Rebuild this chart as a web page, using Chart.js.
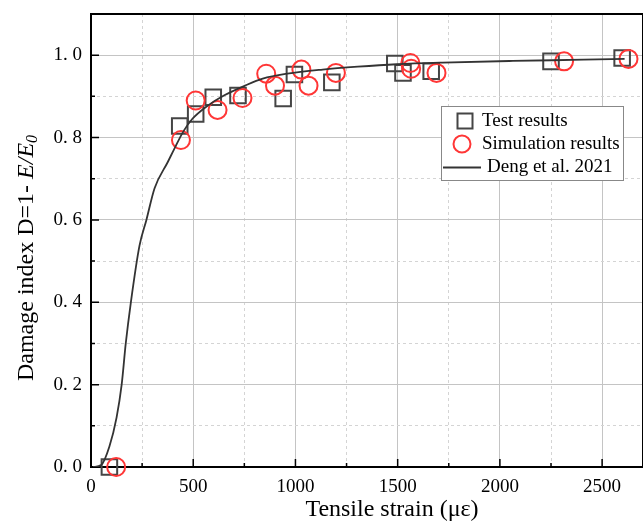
<!DOCTYPE html>
<html>
<head>
<meta charset="utf-8">
<script src="https://cdn.jsdelivr.net/npm/chart.js@4.4.0/dist/chart.umd.min.js"></script>
<style>
  html, body { margin: 0; padding: 0; background: #fff; }
</style>
</head>
<body>
<canvas id="graficoDano" width="643" height="524"></canvas>
<script>
// Test results (squares)
const testStrain = [90, 434, 512, 598, 719, 940, 995, 1178, 1486, 1526, 1664, 2250, 2598];
const testDamage = [0.0, 0.828, 0.857, 0.898, 0.902, 0.895, 0.953, 0.934, 0.980, 0.957, 0.961, 0.985, 0.993];

// Simulation results (circles)
const simStrain = [123, 440, 512, 619, 741, 857, 900, 1029, 1064, 1198, 1562, 1566, 1690, 2314, 2629];
const simDamage = [0.0, 0.794, 0.890, 0.867, 0.896, 0.955, 0.926, 0.965, 0.926, 0.957, 0.981, 0.967, 0.957, 0.985, 0.991];

// Deng et al. 2021 curve
const dengStrain = [10, 50, 90, 125, 150, 170, 195, 237, 271, 311, 375, 410, 452, 495, 564, 650, 753, 840, 960, 1133, 1305, 1495, 1719, 2064, 2408, 2610];
const dengDamage = [0, 0.005, 0.05, 0.12, 0.20, 0.30, 0.40, 0.537, 0.60, 0.677, 0.74, 0.775, 0.815, 0.845, 0.875, 0.902, 0.926, 0.943, 0.955, 0.965, 0.972, 0.978, 0.982, 0.986, 0.989, 0.991];

// axis ticks (major ones get labels)
const xTicks = [0, 250, 500, 750, 1000, 1250, 1500, 1750, 2000, 2250, 2500];
const xLabels = ['0', '', '500', '', '1000', '', '1500', '', '2000', '', '2500'];
const yTicks = [0, 0.1, 0.2, 0.3, 0.4, 0.5, 0.6, 0.7, 0.8, 0.9, 1.0];
const yLabels = ['0. 0', '', '0. 2', '', '0. 4', '', '0. 6', '', '0. 8', '', '1. 0'];

const seriesNames = ['Test results', 'Simulation results', 'Deng et al. 2021'];

const pts = (xs, ys) => xs.map((v, i) => ({ x: v, y: ys[i] }));
const SERIF = '"Liberation Serif", "Times New Roman", serif';
const RED = '#ff3636';
const GREY = '#454545';

const noPad = s => { s.paddingTop = 0; s.paddingBottom = 0; s.paddingLeft = 0; s.paddingRight = 0; };

// frame, inward ticks, axis titles and legend
const extras = {
  id: 'extras',
  beforeDatasetsDraw(chart) {
    const { ctx, chartArea: a, scales: { x, y } } = chart;
    ctx.save();
    ctx.strokeStyle = '#000';
    ctx.lineWidth = 1.5;
    ctx.beginPath();
    xTicks.forEach((v, i) => {
      const px = x.getPixelForValue(v);
      const len = xLabels[i] ? 8 : 4;
      ctx.moveTo(px, a.bottom); ctx.lineTo(px, a.bottom - len);
    });
    yTicks.forEach((v, i) => {
      const py = y.getPixelForValue(v);
      const len = yLabels[i] ? 8 : 4;
      ctx.moveTo(a.left, py); ctx.lineTo(a.left + len, py);
    });
    ctx.stroke();
    ctx.lineWidth = 2;
    ctx.strokeRect(a.left, a.top, a.right - a.left, a.bottom - a.top);
    ctx.restore();
  },
  afterDatasetsDraw(chart) {
    const { ctx } = chart;
    ctx.save();
    ctx.fillStyle = '#000';
    ctx.textBaseline = 'middle';

    // x title
    ctx.font = '24px ' + SERIF;
    ctx.textAlign = 'center';
    ctx.fillText('Tensile strain (\u03bc\u03b5)', 392, 510);

    // y title with italic E/E0
    ctx.save();
    ctx.translate(27, 258);
    ctx.rotate(-Math.PI / 2);
    ctx.textAlign = 'left';
    const f1 = '24px ' + SERIF, f2 = 'italic 24px ' + SERIF, f3 = 'italic 16px ' + SERIF;
    const p1 = 'Damage index D=1- ', p2 = 'E/E', p3 = '0';
    ctx.font = f1; const w1 = ctx.measureText(p1).width;
    ctx.font = f2; const w2 = ctx.measureText(p2).width;
    ctx.font = f3; const w3 = ctx.measureText(p3).width;
    let xx = -(w1 + w2 + w3) / 2;
    ctx.font = f1; ctx.fillText(p1, xx, 0); xx += w1;
    ctx.font = f2; ctx.fillText(p2, xx, 0); xx += w2;
    ctx.font = f3; ctx.fillText(p3, xx, 6);
    ctx.restore();

    // legend
    ctx.fillStyle = '#fff';
    ctx.fillRect(441, 106, 183, 75);
    ctx.strokeStyle = '#888';
    ctx.lineWidth = 1;
    ctx.strokeRect(441.5, 106.5, 182, 74);

    ctx.strokeStyle = GREY;
    ctx.lineWidth = 2;
    ctx.strokeRect(457.5, 113.5, 15, 15);

    ctx.strokeStyle = RED;
    ctx.beginPath();
    ctx.arc(462, 144, 8.5, 0, Math.PI * 2);
    ctx.stroke();

    ctx.strokeStyle = '#333';
    ctx.lineWidth = 1.8;
    ctx.beginPath();
    ctx.moveTo(443, 167.5); ctx.lineTo(481, 167.5);
    ctx.stroke();

    ctx.fillStyle = '#000';
    ctx.font = '19px ' + SERIF;
    ctx.textAlign = 'left';
    ctx.fillText(seriesNames[0], 482, 121);
    ctx.fillText(seriesNames[1], 482, 144);
    ctx.fillText(seriesNames[2], 487, 167);
    ctx.restore();
  }
};

new Chart(document.getElementById('graficoDano'), {
  type: 'scatter',
  data: {
    datasets: [
      {
        label: seriesNames[2],
        data: pts(dengStrain, dengDamage),
        showLine: true,
        borderColor: '#333',
        borderWidth: 1.8,
        pointRadius: 0,
        cubicInterpolationMode: 'monotone',
        order: 1
      },
      {
        label: seriesNames[1],
        data: pts(simStrain, simDamage),
        pointStyle: 'circle',
        pointRadius: 9,
        pointBorderWidth: 2,
        borderColor: RED,
        backgroundColor: 'transparent',
        clip: false,
        order: 2
      },
      {
        label: seriesNames[0],
        data: pts(testStrain, testDamage),
        pointStyle: 'rect',
        pointRadius: 11,
        pointBorderWidth: 2,
        borderColor: GREY,
        backgroundColor: 'transparent',
        clip: false,
        order: 3
      }
    ]
  },
  options: {
    responsive: false,
    animation: false,
    layout: { autoPadding: false, padding: { top: 14, right: 0, left: 0, bottom: 0 } },
    plugins: { legend: { display: false }, tooltip: { enabled: false } },
    scales: {
      x: {
        type: 'linear',
        min: 0,
        max: 2700,
        afterBuildTicks: s => { s.ticks = xTicks.map(v => ({ value: v })); },
        afterFit: s => { s.height = 57; noPad(s); },
        ticks: {
          padding: 9,
          color: '#000',
          font: { family: SERIF, size: 19 },
          maxRotation: 0,
          autoSkip: false,
          callback: (v, i) => xLabels[i]
        },
        grid: {
          drawTicks: false,
          color: c => (c.tick && xLabels[c.index] ? '#c4c4c4' : '#d4d4d4')
        },
        border: {
          display: false,
          dash: c => (c.tick && !xLabels[c.index] ? [3, 3] : [])
        }
      },
      y: {
        type: 'linear',
        min: 0,
        max: 1.1,
        afterBuildTicks: s => { s.ticks = yTicks.map(v => ({ value: v })); },
        afterFit: s => { s.width = 91; noPad(s); },
        ticks: {
          padding: 9,
          color: '#000',
          font: { family: SERIF, size: 19 },
          autoSkip: false,
          callback: (v, i) => yLabels[i]
        },
        grid: {
          drawTicks: false,
          color: c => (c.tick && yLabels[c.index] ? '#c4c4c4' : '#d4d4d4')
        },
        border: {
          display: false,
          dash: c => (c.tick && !yLabels[c.index] ? [3, 3] : [])
        }
      }
    }
  },
  plugins: [extras]
});
</script>
</body>
</html>
